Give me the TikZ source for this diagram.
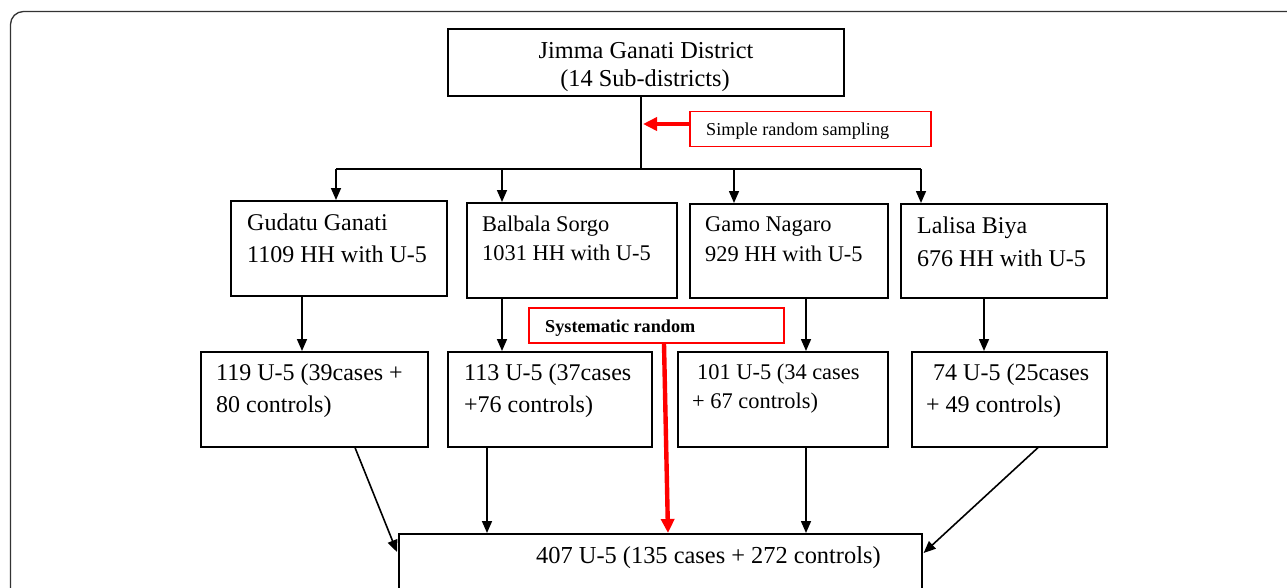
\documentclass[tikz,border=0pt]{standalone}
\usepackage{fontspec}
\setmainfont{Liberation Serif}
\usetikzlibrary{arrows.meta,calc}
\begin{document}
\begin{tikzpicture}[x=1pt,y=-1pt,
  box/.style={draw=black, line width=1.6pt, inner sep=0pt, anchor=north west, fill=white},
  redbox/.style={draw=red, line width=1.9pt, inner sep=0pt, anchor=north west, fill=white},
  txt/.style={inner sep=0pt, anchor=base west},
  ctxt/.style={inner sep=0pt, anchor=base},
  big/.style={font=\fontsize{24}{29}\selectfont},
  mid/.style={font=\fontsize{22.4}{27}\selectfont},
  small/.style={font=\fontsize{18.2}{22}\selectfont},
  conn/.style={line width=1.6pt},
  arr/.style={line width=1.6pt, -{Triangle[length=12pt,width=10pt]}},
  redarr/.style={draw=red, line width=4.4pt, -{Triangle[length=14pt,width=13pt]}}
]
\useasboundingbox (0,0) rectangle (1287,587);
\draw[black!80, line width=1.3pt, rounded corners=13pt] (10.5,11.5) rectangle (1330,650);

% top
\node[box, minimum width=396pt, minimum height=67pt] (top) at (447,28) {};
\node[ctxt, font=\fontsize{24.3}{29}\selectfont] (t0a) at (646,58.3) {Jimma Ganati District};
\node[ctxt, font=\fontsize{24.3}{29}\selectfont] (t0b) at (645,86) {(14 Sub-districts)};

% simple random sampling
\node[redbox, minimum width=241pt, minimum height=35pt] (srs) at (689,110.5) {};
\node[txt, small] (tsrs) at (706,135) {Simple random sampling};

% row 1
\node[box, minimum width=216pt, minimum height=95pt] (b1) at (230,200) {};
\node[txt, big] (t1a) at (247,230.7) {Gudatu Ganati};
\node[txt, big] (t1b) at (247,262.7) {1109 HH with U-5};

\node[box, minimum width=210pt, minimum height=95pt] (b2) at (466,202) {};
\node[txt, mid] (t2a) at (482,231.7) {Balbala Sorgo};
\node[txt, mid] (t2b) at (482,260.7) {1031 HH with U-5};

\node[box, minimum width=198pt, minimum height=94pt] (b3) at (689,203) {};
\node[txt, mid] (t3a) at (705,231.7) {Gamo Nagaro};
\node[txt, mid] (t3b) at (705,261) {929 HH with U-5};

\node[box, minimum width=206pt, minimum height=94pt] (b4) at (900,203) {};
\node[txt, big] (t4a) at (917,233.3) {Lalisa Biya};
\node[txt, big] (t4b) at (917,266) {676 HH with U-5};

% row 2
\node[box, minimum width=227pt, minimum height=95pt] (c1) at (200,351) {};
\node[txt, big] (u1a) at (216,380.7) {119 U-5 (39cases +};
\node[txt, big] (u1b) at (216,412.7) {80 controls)};

\node[box, minimum width=204pt, minimum height=95pt] (c2) at (447,351) {};
\node[txt, big] (u2a) at (464,380.7) {113 U-5 (37cases};
\node[txt, big] (u2b) at (464,412.7) {+76 controls)};

\node[box, minimum width=210pt, minimum height=95pt] (c3) at (677,351) {};
\node[txt, mid] (u3a) at (697,379.3) {101 U-5 (34 cases};
\node[txt, mid] (u3b) at (692,408.3) {+ 67 controls)};

\node[box, minimum width=195pt, minimum height=95pt] (c4) at (911,351) {};
\node[txt, big] (u4a) at (933,380.7) {74 U-5 (25cases};
\node[txt, big] (u4b) at (926,412.7) {+ 49 controls)};

% systematic random
\node[redbox, minimum width=255pt, minimum height=35pt] (sys) at (528,307) {};
\node[txt, small, font=\fontsize{18.2}{22}\selectfont\bfseries] (tsys) at (545,332.7) {Systematic random};

% bottom
\node[box, minimum width=523pt, minimum height=90pt] (d) at (398,533) {};
\node[txt, font=\fontsize{24.4}{29}\selectfont] (td) at (536,563) {407 U-5 (135 cases + 272 controls)};

% connectors top -> row 1
\coordinate (hj) at (641,169);
\coordinate (a1) at (336,169);
\coordinate (a2) at (502,169);
\coordinate (a3) at (734,169);
\coordinate (a4) at (921,169);
\draw[conn] (top.south -| hj) -- (hj);
\draw[conn] (a1) -- (a4);
\draw[arr] (a1) -- (a1 |- b1.north);
\draw[arr] (a2) -- (a2 |- b2.north);
\draw[arr] (a3) -- (a3 |- b3.north);
\draw[arr] (a4) -- (a4 |- b4.north);

% red arrow to vertical line
\draw[redarr] (srs.west |- 0,124) -- (643,124);

% row 1 -> row 2
\coordinate (x1) at (302,0);
\coordinate (x2) at (502,0);
\coordinate (x3) at (806,0);
\coordinate (x4) at (984,0);
\draw[arr] (b1.south -| x1) -- (c1.north -| x1);
\draw[arr] (b2.south -| x2) -- (c2.north -| x2);
\draw[arr] (b3.south -| x3) -- (c3.north -| x3);
\draw[arr] (b4.south -| x4) -- (c4.north -| x4);

% row 2 -> bottom
\draw[arr] ($(c1.south west)+(155,0)$) -- ($(d.north west)+(-1,19)$);
\draw[arr] ($(c2.south west)+(40,0)$) -- ($(d.north west)+(89,0)$);
\draw[arr] ($(c3.south west)+(129,0)$) -- ($(d.north west)+(408,0)$);
\draw[arr] ($(c4.south west)+(127,0)$) -- ($(d.north east)+(1,20)$);

% red systematic arrow
\draw[redarr] ($(sys.south west)+(136,0)$) -- ($(d.north west)+(270,0)$);
\end{tikzpicture}
\end{document}
